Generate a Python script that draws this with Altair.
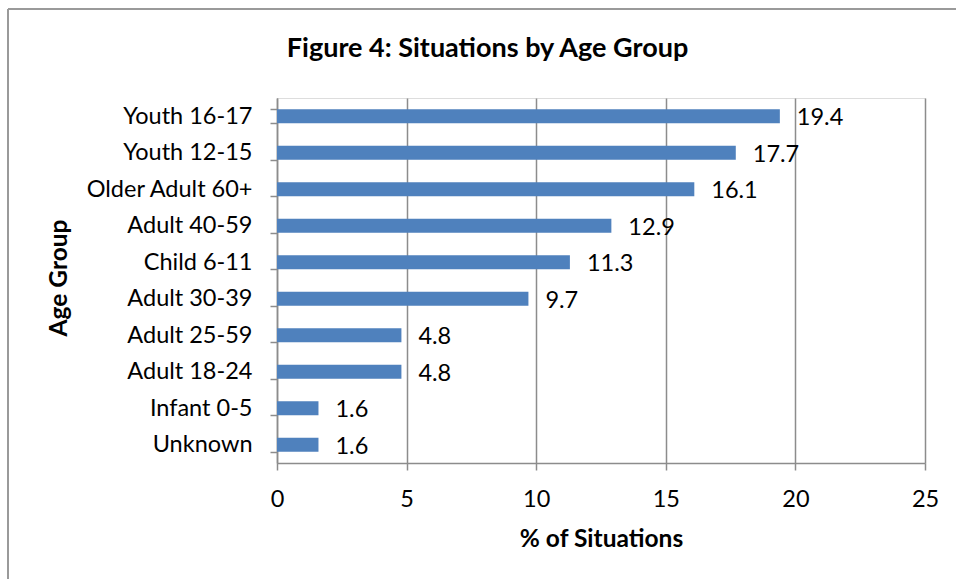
import altair as alt
import pandas as pd

# Age groups, top to bottom, and the share of situations in each (%)
age_groups = [
    "Youth 16-17", "Youth 12-15", "Older Adult 60+", "Adult 40-59", "Child 6-11",
    "Adult 30-39", "Adult 25-59", "Adult 18-24", "Infant 0-5", "Unknown",
]
pct_situations = [19.4, 17.7, 16.1, 12.9, 11.3, 9.7, 4.8, 4.8, 1.6, 1.6]
x_ticks = [0, 5, 10, 15, 20, 25]
chart_title = "Figure 4: Situations by Age Group"

df = pd.DataFrame({"group": age_groups, "pct": pct_situations})

FONT = "Lato"
GRAY = "#8c8c8c"
W, H = 648, 365

y_enc = alt.Y(
    "group:N",
    sort=age_groups,
    scale=alt.Scale(paddingInner=0.616, paddingOuter=0.308),
    axis=alt.Axis(
        title="Age Group",
        titleFont=FONT, titleFontSize=24.5, titleFontWeight="bold", titleColor="black",
        titleAngle=270, titleAlign="center", titleBaseline="middle",
        titleX=-218, titleY=179.5,
        labelFont=FONT, labelFontSize=23.5, labelColor="black",
        labelPadding=18, tickSize=7, tickBand="extent",
        tickColor=GRAY, tickWidth=1.5, domainColor=GRAY, domainWidth=1.5,
        grid=False,
    ),
)

x_enc = alt.X(
    "pct:Q",
    scale=alt.Scale(domain=[0, 25], nice=False),
    axis=alt.Axis(
        title="% of Situations", values=x_ticks, format="d",
        titleFont=FONT, titleFontSize=24.5, titleFontWeight="bold", titleColor="black",
        titleBaseline="alphabetic", titleY=83,
        labelFont=FONT, labelFontSize=23.5, labelColor="black", labelFlush=False,
        labelBaseline="alphabetic", labelPadding=36, tickSize=7,
        tickColor=GRAY, tickWidth=1.5, domainColor=GRAY, domainWidth=1.5,
        grid=True, gridColor=GRAY, gridWidth=1.5,
    ),
)

bars = alt.Chart(df).mark_bar(color="#4F81BD").encode(x=x_enc, y=y_enc)

labels = alt.Chart(df).mark_text(
    align="left", baseline="middle", dx=17, dy=2, font=FONT, fontSize=23.5, color="black"
).encode(x="pct:Q", y=alt.Y("group:N", sort=age_groups), text=alt.Text("pct:Q", format=".1f"))

# figure heading, centred over the whole figure rather than the plot area
heading = alt.Chart(pd.DataFrame({"t": [chart_title]})).mark_text(
    align="center", baseline="alphabetic", font=FONT, fontSize=27, fontWeight="bold", color="black"
).encode(x=alt.value(210.5), y=alt.value(-41), text="t:N")

# outer frame of the figure (left and top edges)
frame_left = alt.Chart(df).mark_rule(color="#9a9a9a", strokeWidth=2).encode(
    x=alt.value(-269), y=alt.value(-89), y2=alt.value(H + 130)
)
frame_top = alt.Chart(df).mark_rule(color="#9a9a9a", strokeWidth=2).encode(
    x=alt.value(-269), x2=alt.value(W + 40), y=alt.value(-89)
)

chart = (
    alt.layer(frame_left, frame_top, bars, labels, heading)
    .properties(
        width=W, height=H,
        autosize=alt.AutoSizeParams(type="none"),
        padding={"left": 277, "top": 98, "right": 31, "bottom": 116},
    )
    .configure_view(stroke=None)
    .configure(background="white")
)

chart.save("out.html", embed_options={"renderer": "svg", "actions": False})
